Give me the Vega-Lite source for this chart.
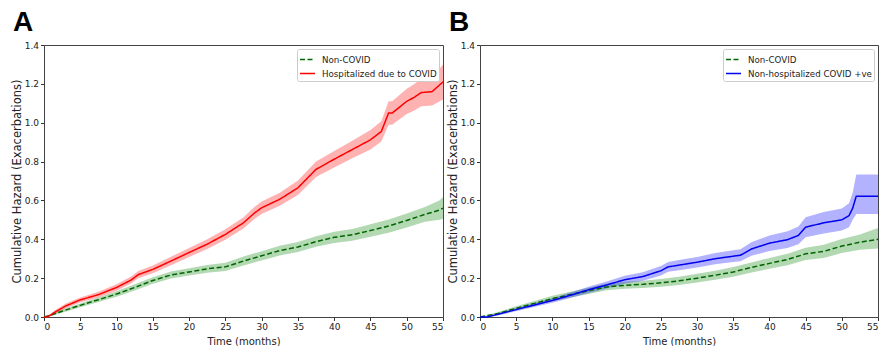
{
"$schema": "https://vega.github.io/schema/vega-lite/v6.json",
"padding": {"left": 10, "top": 8, "right": 2, "bottom": 2},
"bounds": "flush",
"spacing": 37,
"config": {
  "view": {"stroke": "#444", "strokeWidth": 1},
  "axis": {"labelFont": "DejaVu Sans", "labelFontSize": 9, "labelColor": "#222", "tickColor": "#333", "tickSize": 3.5, "labelPadding": 2, "labelOverlap": false, "domain": false, "grid": false, "titleFont": "DejaVu Sans", "titleFontSize": 10, "titleFontWeight": "normal", "titleColor": "#222"},
  "title": {"fontSize": 28, "fontWeight": "bold", "font": "Liberation Sans", "anchor": "start", "frame": "group", "dx": -31, "offset": 4, "color": "#000"}
},
"datasets": {
  "a": [
    {"g":"Non-COVID","t":0,"v":0,"lo":0,"hi":0},
    {"g":"Non-COVID","t":1,"v":0.01,"lo":0.005,"hi":0.015},
    {"g":"Non-COVID","t":2.5,"v":0.03,"lo":0.022,"hi":0.038},
    {"g":"Non-COVID","t":5,"v":0.06,"lo":0.05,"hi":0.07},
    {"g":"Non-COVID","t":7.5,"v":0.089,"lo":0.077,"hi":0.101},
    {"g":"Non-COVID","t":10,"v":0.118,"lo":0.104,"hi":0.132},
    {"g":"Non-COVID","t":12.5,"v":0.152,"lo":0.136,"hi":0.168},
    {"g":"Non-COVID","t":15,"v":0.188,"lo":0.171,"hi":0.205},
    {"g":"Non-COVID","t":17.5,"v":0.216,"lo":0.198,"hi":0.234},
    {"g":"Non-COVID","t":20,"v":0.232,"lo":0.213,"hi":0.251},
    {"g":"Non-COVID","t":22.5,"v":0.248,"lo":0.228,"hi":0.268},
    {"g":"Non-COVID","t":25,"v":0.258,"lo":0.237,"hi":0.279},
    {"g":"Non-COVID","t":27.5,"v":0.288,"lo":0.265,"hi":0.311},
    {"g":"Non-COVID","t":30,"v":0.315,"lo":0.291,"hi":0.339},
    {"g":"Non-COVID","t":32.5,"v":0.342,"lo":0.317,"hi":0.367},
    {"g":"Non-COVID","t":35,"v":0.36,"lo":0.334,"hi":0.386},
    {"g":"Non-COVID","t":37.5,"v":0.388,"lo":0.361,"hi":0.415},
    {"g":"Non-COVID","t":40,"v":0.41,"lo":0.381,"hi":0.439},
    {"g":"Non-COVID","t":42.5,"v":0.423,"lo":0.393,"hi":0.453},
    {"g":"Non-COVID","t":45,"v":0.445,"lo":0.413,"hi":0.477},
    {"g":"Non-COVID","t":47.5,"v":0.468,"lo":0.434,"hi":0.502},
    {"g":"Non-COVID","t":50,"v":0.497,"lo":0.461,"hi":0.533},
    {"g":"Non-COVID","t":52.5,"v":0.528,"lo":0.49,"hi":0.566},
    {"g":"Non-COVID","t":54.5,"v":0.55,"lo":0.5,"hi":0.6},
    {"g":"Non-COVID","t":55,"v":0.56,"lo":0.505,"hi":0.618},
    {"g":"Hospitalized due to COVID","t":0,"v":0,"lo":0,"hi":0},
    {"g":"Hospitalized due to COVID","t":0.5,"v":0,"lo":0,"hi":0},
    {"g":"Hospitalized due to COVID","t":1.5,"v":0.025,"lo":0.015,"hi":0.035},
    {"g":"Hospitalized due to COVID","t":3,"v":0.057,"lo":0.045,"hi":0.069},
    {"g":"Hospitalized due to COVID","t":5,"v":0.088,"lo":0.075,"hi":0.101},
    {"g":"Hospitalized due to COVID","t":7.5,"v":0.115,"lo":0.1,"hi":0.13},
    {"g":"Hospitalized due to COVID","t":10,"v":0.152,"lo":0.135,"hi":0.169},
    {"g":"Hospitalized due to COVID","t":12,"v":0.19,"lo":0.172,"hi":0.208},
    {"g":"Hospitalized due to COVID","t":13,"v":0.218,"lo":0.199,"hi":0.237},
    {"g":"Hospitalized due to COVID","t":15,"v":0.245,"lo":0.225,"hi":0.265},
    {"g":"Hospitalized due to COVID","t":17.5,"v":0.288,"lo":0.266,"hi":0.31},
    {"g":"Hospitalized due to COVID","t":20,"v":0.332,"lo":0.309,"hi":0.355},
    {"g":"Hospitalized due to COVID","t":22.5,"v":0.375,"lo":0.35,"hi":0.4},
    {"g":"Hospitalized due to COVID","t":25,"v":0.425,"lo":0.398,"hi":0.452},
    {"g":"Hospitalized due to COVID","t":27.5,"v":0.485,"lo":0.456,"hi":0.514},
    {"g":"Hospitalized due to COVID","t":29,"v":0.535,"lo":0.504,"hi":0.566},
    {"g":"Hospitalized due to COVID","t":30,"v":0.562,"lo":0.53,"hi":0.594},
    {"g":"Hospitalized due to COVID","t":32.5,"v":0.606,"lo":0.572,"hi":0.64},
    {"g":"Hospitalized due to COVID","t":35,"v":0.665,"lo":0.628,"hi":0.702},
    {"g":"Hospitalized due to COVID","t":37.5,"v":0.76,"lo":0.72,"hi":0.8},
    {"g":"Hospitalized due to COVID","t":40,"v":0.812,"lo":0.77,"hi":0.854},
    {"g":"Hospitalized due to COVID","t":42.5,"v":0.862,"lo":0.817,"hi":0.907},
    {"g":"Hospitalized due to COVID","t":45,"v":0.912,"lo":0.862,"hi":0.962},
    {"g":"Hospitalized due to COVID","t":46.5,"v":0.955,"lo":0.903,"hi":1.007},
    {"g":"Hospitalized due to COVID","t":47.5,"v":1.05,"lo":0.99,"hi":1.11},
    {"g":"Hospitalized due to COVID","t":48,"v":1.05,"lo":0.99,"hi":1.11},
    {"g":"Hospitalized due to COVID","t":50,"v":1.11,"lo":1.045,"hi":1.175},
    {"g":"Hospitalized due to COVID","t":51,"v":1.13,"lo":1.062,"hi":1.198},
    {"g":"Hospitalized due to COVID","t":52,"v":1.155,"lo":1.085,"hi":1.225},
    {"g":"Hospitalized due to COVID","t":53.5,"v":1.16,"lo":1.088,"hi":1.232},
    {"g":"Hospitalized due to COVID","t":55,"v":1.21,"lo":1.12,"hi":1.3}
  ],
  "b": [
    {"g":"Non-COVID","t":0,"v":0,"lo":0,"hi":0},
    {"g":"Non-COVID","t":2.5,"v":0.018,"lo":0.01,"hi":0.026},
    {"g":"Non-COVID","t":5,"v":0.045,"lo":0.035,"hi":0.055},
    {"g":"Non-COVID","t":7.5,"v":0.07,"lo":0.058,"hi":0.082},
    {"g":"Non-COVID","t":10,"v":0.095,"lo":0.081,"hi":0.109},
    {"g":"Non-COVID","t":12.5,"v":0.115,"lo":0.1,"hi":0.13},
    {"g":"Non-COVID","t":15,"v":0.135,"lo":0.119,"hi":0.151},
    {"g":"Non-COVID","t":17.5,"v":0.155,"lo":0.138,"hi":0.172},
    {"g":"Non-COVID","t":20,"v":0.163,"lo":0.145,"hi":0.181},
    {"g":"Non-COVID","t":22.5,"v":0.168,"lo":0.149,"hi":0.187},
    {"g":"Non-COVID","t":25,"v":0.176,"lo":0.156,"hi":0.196},
    {"g":"Non-COVID","t":27.5,"v":0.186,"lo":0.165,"hi":0.207},
    {"g":"Non-COVID","t":30,"v":0.2,"lo":0.178,"hi":0.222},
    {"g":"Non-COVID","t":32.5,"v":0.215,"lo":0.192,"hi":0.238},
    {"g":"Non-COVID","t":35,"v":0.232,"lo":0.207,"hi":0.257},
    {"g":"Non-COVID","t":37.5,"v":0.255,"lo":0.229,"hi":0.281},
    {"g":"Non-COVID","t":40,"v":0.276,"lo":0.248,"hi":0.304},
    {"g":"Non-COVID","t":42.5,"v":0.296,"lo":0.266,"hi":0.326},
    {"g":"Non-COVID","t":45,"v":0.325,"lo":0.293,"hi":0.357},
    {"g":"Non-COVID","t":47.5,"v":0.338,"lo":0.304,"hi":0.372},
    {"g":"Non-COVID","t":50,"v":0.365,"lo":0.329,"hi":0.401},
    {"g":"Non-COVID","t":52.5,"v":0.385,"lo":0.346,"hi":0.424},
    {"g":"Non-COVID","t":55,"v":0.4,"lo":0.352,"hi":0.458},
    {"g":"Non-hospitalized COVID +ve","t":0,"v":0,"lo":0,"hi":0},
    {"g":"Non-hospitalized COVID +ve","t":1,"v":0,"lo":0,"hi":0},
    {"g":"Non-hospitalized COVID +ve","t":2.5,"v":0.014,"lo":0.008,"hi":0.02},
    {"g":"Non-hospitalized COVID +ve","t":5,"v":0.038,"lo":0.03,"hi":0.046},
    {"g":"Non-hospitalized COVID +ve","t":7.5,"v":0.062,"lo":0.052,"hi":0.072},
    {"g":"Non-hospitalized COVID +ve","t":10,"v":0.085,"lo":0.073,"hi":0.097},
    {"g":"Non-hospitalized COVID +ve","t":12.5,"v":0.112,"lo":0.098,"hi":0.126},
    {"g":"Non-hospitalized COVID +ve","t":15,"v":0.14,"lo":0.124,"hi":0.156},
    {"g":"Non-hospitalized COVID +ve","t":17.5,"v":0.165,"lo":0.147,"hi":0.183},
    {"g":"Non-hospitalized COVID +ve","t":20,"v":0.192,"lo":0.172,"hi":0.212},
    {"g":"Non-hospitalized COVID +ve","t":22.5,"v":0.208,"lo":0.186,"hi":0.23},
    {"g":"Non-hospitalized COVID +ve","t":25,"v":0.238,"lo":0.214,"hi":0.262},
    {"g":"Non-hospitalized COVID +ve","t":26,"v":0.258,"lo":0.233,"hi":0.283},
    {"g":"Non-hospitalized COVID +ve","t":27.5,"v":0.267,"lo":0.241,"hi":0.293},
    {"g":"Non-hospitalized COVID +ve","t":30,"v":0.282,"lo":0.255,"hi":0.309},
    {"g":"Non-hospitalized COVID +ve","t":32.5,"v":0.3,"lo":0.271,"hi":0.329},
    {"g":"Non-hospitalized COVID +ve","t":35,"v":0.313,"lo":0.283,"hi":0.343},
    {"g":"Non-hospitalized COVID +ve","t":36,"v":0.318,"lo":0.287,"hi":0.349},
    {"g":"Non-hospitalized COVID +ve","t":37.5,"v":0.35,"lo":0.315,"hi":0.385},
    {"g":"Non-hospitalized COVID +ve","t":40,"v":0.38,"lo":0.34,"hi":0.42},
    {"g":"Non-hospitalized COVID +ve","t":42.5,"v":0.398,"lo":0.355,"hi":0.441},
    {"g":"Non-hospitalized COVID +ve","t":44,"v":0.42,"lo":0.374,"hi":0.466},
    {"g":"Non-hospitalized COVID +ve","t":45,"v":0.462,"lo":0.41,"hi":0.514},
    {"g":"Non-hospitalized COVID +ve","t":47.5,"v":0.485,"lo":0.43,"hi":0.54},
    {"g":"Non-hospitalized COVID +ve","t":50,"v":0.5,"lo":0.445,"hi":0.558},
    {"g":"Non-hospitalized COVID +ve","t":51,"v":0.522,"lo":0.462,"hi":0.585},
    {"g":"Non-hospitalized COVID +ve","t":51.5,"v":0.56,"lo":0.5,"hi":0.64},
    {"g":"Non-hospitalized COVID +ve","t":52,"v":0.622,"lo":0.53,"hi":0.734},
    {"g":"Non-hospitalized COVID +ve","t":55,"v":0.622,"lo":0.53,"hi":0.734}
  ]
},
"hconcat": [
  {
    "width": 399, "height": 272,
    "title": {"text": "A"},
    "data": {"name": "a"},
    "encoding": {
      "x": {"field": "t", "type": "quantitative", "title": "Time (months)", "scale": {"domain": [0, 55], "nice": false}, "axis": {"values": [0,5,10,15,20,25,30,35,40,45,50,55], "titlePadding": 5, "labelOverlap": false}}
    },
    "layer": [
      {"mark": {"type": "area", "opacity": 0.3},
       "encoding": {
         "y": {"field": "lo", "type": "quantitative", "title": "Cumulative Hazard (Exacerbations)", "scale": {"domain": [0, 1.4], "nice": false}, "axis": {"values": [0,0.2,0.4,0.6,0.8,1.0,1.2,1.4], "format": ".1f", "titlePadding": 2, "titleFontSize": 11.5, "labelOverlap": false}},
         "y2": {"field": "hi"},
         "fill": {"field": "g", "type": "nominal", "scale": {"domain": ["Hospitalized due to COVID", "Non-COVID"], "range": ["#ff0000", "#008000"]}, "legend": null}
       }},
      {"mark": {"type": "line", "strokeWidth": 1.5},
       "encoding": {
         "y": {"field": "v", "type": "quantitative", "title": "Cumulative Hazard (Exacerbations)", "axis": {"values": [0,0.2,0.4,0.6,0.8,1.0,1.2,1.4], "format": ".1f", "titlePadding": 2, "titleFontSize": 11.5, "labelOverlap": false}},
         "color": {"field": "g", "type": "nominal", "scale": {"domain": ["Non-COVID", "Hospitalized due to COVID"], "range": ["#006400", "#ff0000"]},
           "legend": {"title": null, "orient": "top-right", "offset": 4, "padding": 2, "rowPadding": 0, "strokeColor": "#cccccc", "fillColor": "#ffffff", "cornerRadius": 2, "labelFont": "DejaVu Sans", "labelFontSize": 8.7, "labelColor": "#222", "symbolType": "stroke", "symbolSize": 225, "symbolStrokeWidth": 1.6, "labelOffset": 6, "labelLimit": 300}},
         "strokeDash": {"field": "g", "type": "nominal", "scale": {"domain": ["Non-COVID", "Hospitalized due to COVID"], "range": [[5, 2.5], [1, 0]]}, "legend": {"title": null}}
       }}
    ]
  },
  {
    "width": 398, "height": 272,
    "title": {"text": "B"},
    "data": {"name": "b"},
    "encoding": {
      "x": {"field": "t", "type": "quantitative", "title": "Time (months)", "scale": {"domain": [0, 55], "nice": false}, "axis": {"values": [0,5,10,15,20,25,30,35,40,45,50,55], "titlePadding": 5, "labelOverlap": false}}
    },
    "layer": [
      {"mark": {"type": "area", "opacity": 0.3},
       "encoding": {
         "y": {"field": "lo", "type": "quantitative", "title": "Cumulative Hazard (Exacerbations)", "scale": {"domain": [0, 1.4], "nice": false}, "axis": {"values": [0,0.2,0.4,0.6,0.8,1.0,1.2,1.4], "format": ".1f", "titlePadding": 2, "titleFontSize": 11.5, "labelOverlap": false}},
         "y2": {"field": "hi"},
         "fill": {"field": "g", "type": "nominal", "scale": {"domain": ["Non-hospitalized COVID +ve", "Non-COVID"], "range": ["#0000ff", "#008000"]}, "legend": null}
       }},
      {"mark": {"type": "line", "strokeWidth": 1.5},
       "encoding": {
         "y": {"field": "v", "type": "quantitative", "title": "Cumulative Hazard (Exacerbations)", "axis": {"values": [0,0.2,0.4,0.6,0.8,1.0,1.2,1.4], "format": ".1f", "titlePadding": 2, "titleFontSize": 11.5, "labelOverlap": false}},
         "color": {"field": "g", "type": "nominal", "scale": {"domain": ["Non-COVID", "Non-hospitalized COVID +ve"], "range": ["#006400", "#0000ee"]},
           "legend": {"title": null, "orient": "top-right", "offset": 4, "padding": 2, "rowPadding": 0, "strokeColor": "#cccccc", "fillColor": "#ffffff", "cornerRadius": 2, "labelFont": "DejaVu Sans", "labelFontSize": 8.7, "labelColor": "#222", "symbolType": "stroke", "symbolSize": 225, "symbolStrokeWidth": 1.6, "labelOffset": 6, "labelLimit": 300}},
         "strokeDash": {"field": "g", "type": "nominal", "scale": {"domain": ["Non-COVID", "Non-hospitalized COVID +ve"], "range": [[5, 2.5], [1, 0]]}, "legend": {"title": null}}
       }}
    ]
  }
],
"resolve": {"scale": {"color": "independent", "fill": "independent", "strokeDash": "independent"}, "legend": {"color": "independent", "strokeDash": "independent"}}
}
